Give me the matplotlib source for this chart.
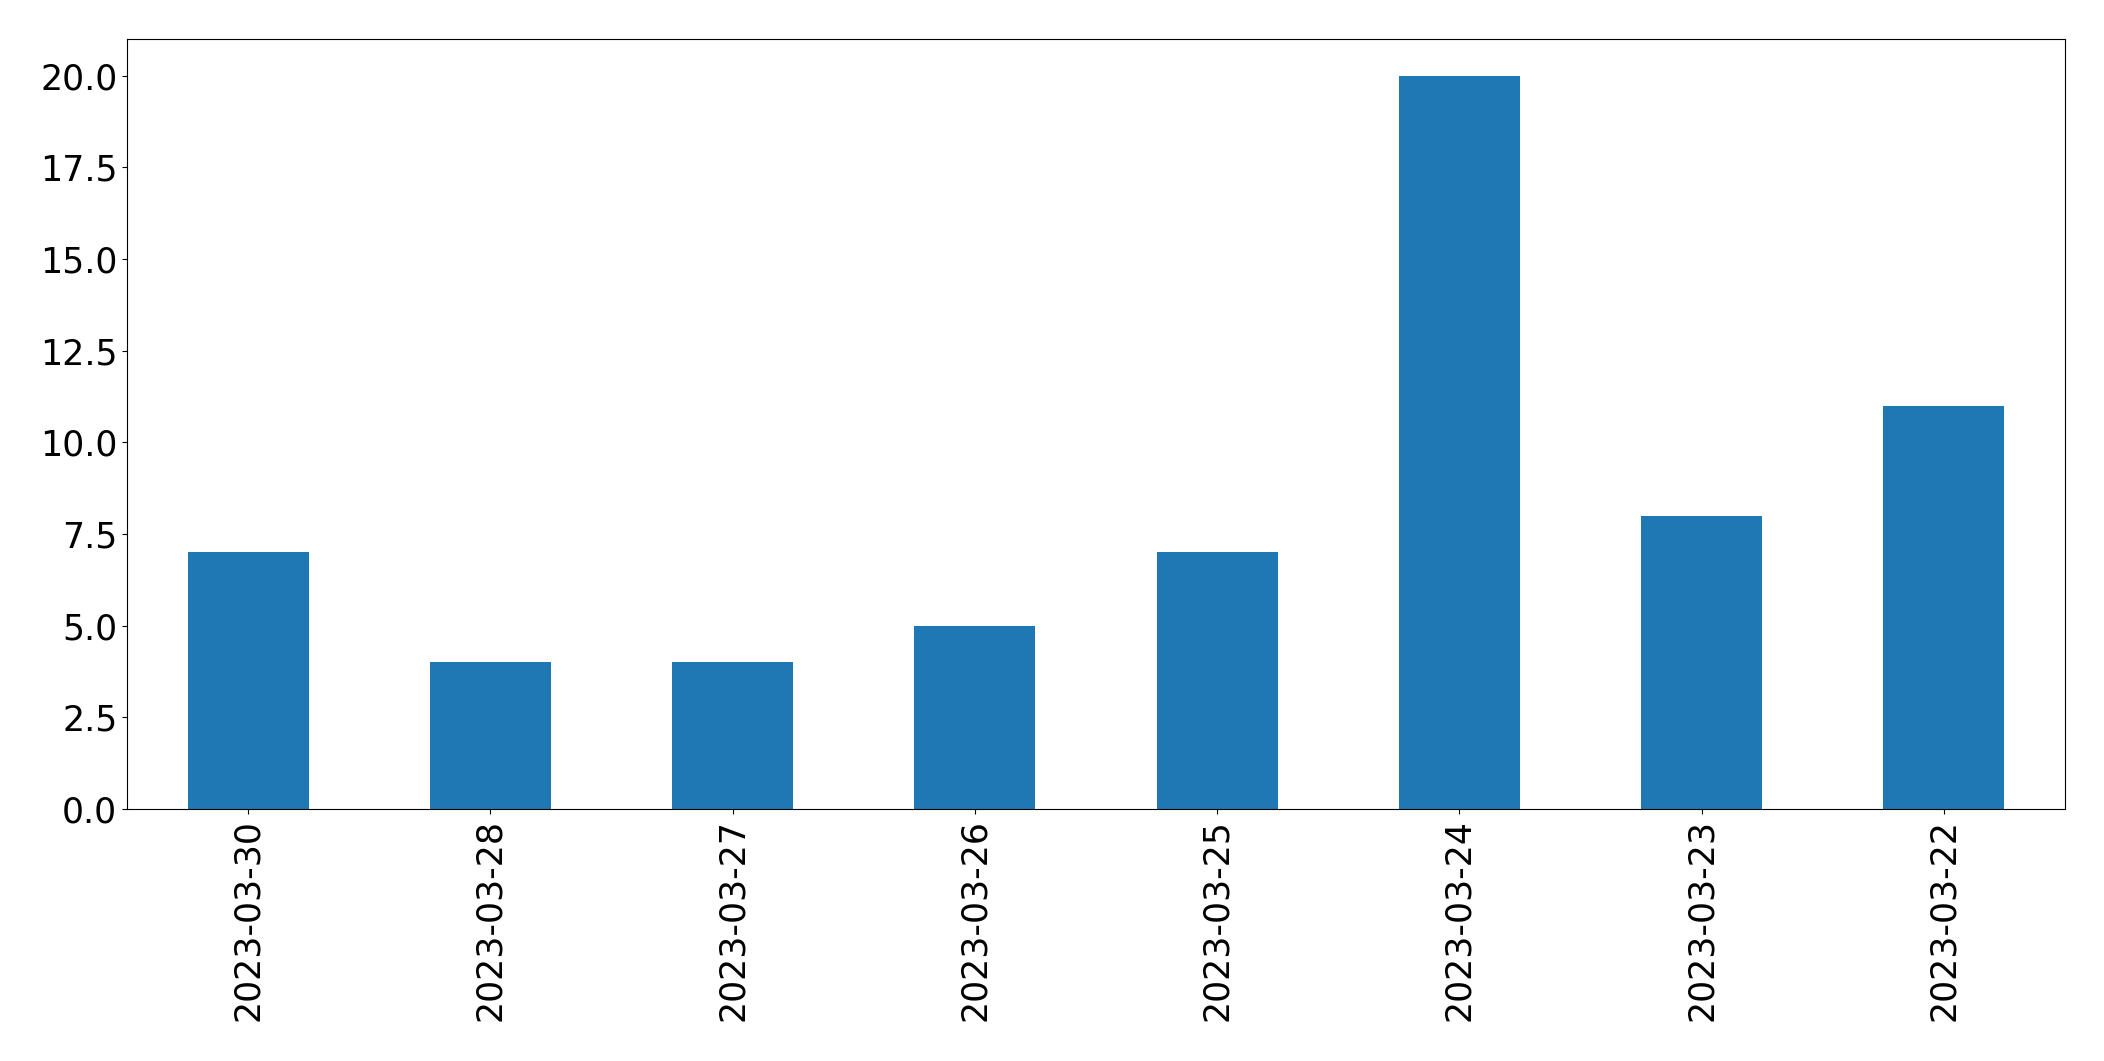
import pandas as pd
import numpy as np
import matplotlib.pyplot as plt

# counts per day
dates = ['2023-03-30', '2023-03-28', '2023-03-27', '2023-03-26',
         '2023-03-25', '2023-03-24', '2023-03-23', '2023-03-22']
counts = [7, 4, 4, 5, 7, 20, 8, 11]

s = pd.Series(counts, index=dates)

fig, ax = plt.subplots(figsize=(21.04, 10.61), dpi=100)
s.plot(kind='bar', ax=ax, fontsize=25)
plt.subplots_adjust(left=127/2104, right=2065/2104, top=1-39/1061, bottom=1-809/1061)
plt.savefig('out.png', dpi=100)
